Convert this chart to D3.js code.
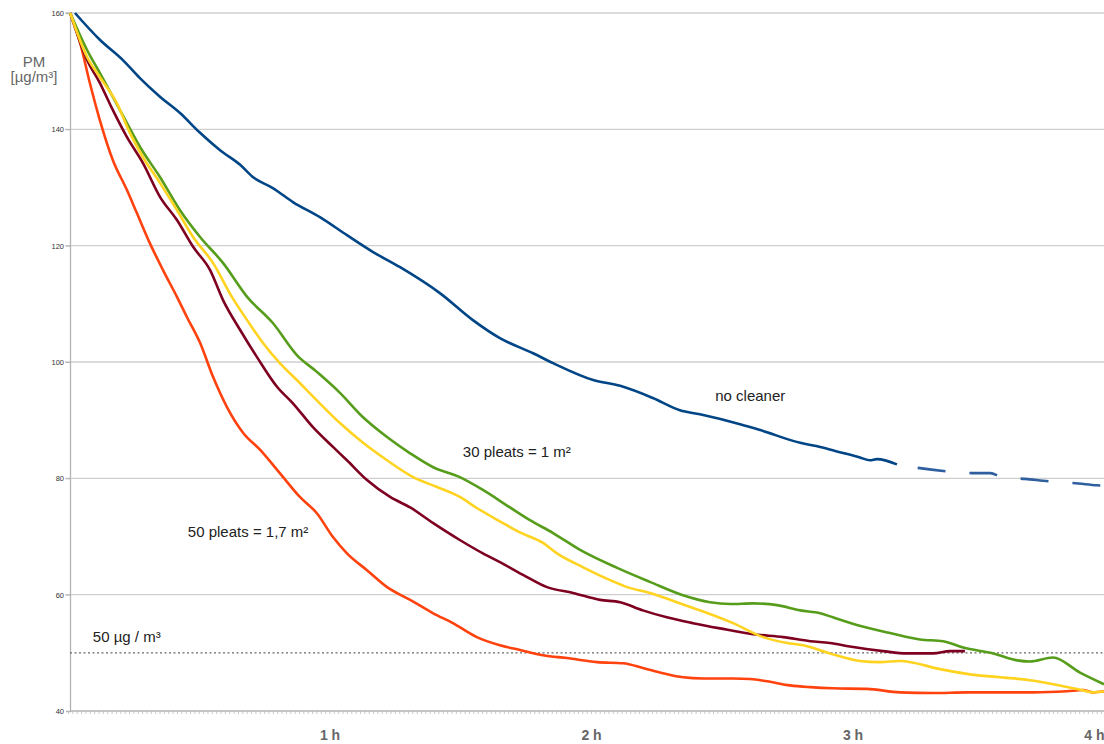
<!DOCTYPE html>
<html>
<head>
<meta charset="utf-8">
<script src="https://cdn.jsdelivr.net/npm/d3@7"></script>
<style>
  html, body { margin: 0; padding: 0; background: #fff; }
  svg { display: block; font-family: "Liberation Sans", Arial, sans-serif; }
</style>
</head>
<body>
<svg id="chart" width="1104" height="744"></svg>
<script>
// ---- data (time in minutes, PM in µg/m³) ----
const yTicks = [40, 60, 80, 100, 120, 140, 160];
const hourTicks = [60, 120, 180, 240];
const hourLabels = ["1 h", "2 h", "3 h", "4 h"];
const threshold = 50;

const blueT = [1.6,7.3,12.6,16.5,21.1,25.7,30.3,34.9,39.5,42.4,47.0,51.6,57.8,64.0,70.0,76.2,85.4,92.9,99.1,106.7,111.3,120.5,126.7,134.2,140.4,145.0,154.2,158.8,168.0,172.6,177.1,181.7,184.0,185.6,190.2];
const blueV = [160,155.4,151.9,148.8,145.6,142.8,139.4,136.4,133.9,131.8,129.9,127.5,124.9,121.8,118.9,116.3,111.8,107.2,104.1,101.5,99.8,96.9,95.9,93.8,91.7,91.0,89.3,88.3,86.1,85.4,84.5,83.6,83.1,83.3,82.4];
const blueDashT = [190.2,195.0,201.7,207.4,211.6,214.3,219.6,224.9,230.6,236.1,237.7];
const blueDashV = [82.4,81.8,81.2,80.9,80.9,80.2,79.9,79.5,79.2,78.8,78.7];

const greenT = [0.5,4.4,7.3,10.3,13.5,16.5,21.1,25.7,30.3,35.6,41.1,47.0,52.5,57.1,62.4,67.7,73.2,78.5,83.8,89.9,95.2,101.4,106.0,111.3,117.5,126.0,133.5,141.1,147.3,151.9,157.2,162.7,168.0,172.6,175.5,181.0,188.6,195.5,200.8,205.4,212.3,217.8,220.7,226.0,232.2,237.7];
const greenV = [160,153.6,149.7,145.6,141.1,137.0,131.8,126.1,121.5,117.0,111.2,106.7,101.2,98.3,94.7,90.5,87.1,84.3,81.9,80.2,78.0,75.0,72.8,70.6,67.7,64.6,62.2,59.9,58.7,58.4,58.5,58.2,57.3,56.8,56.1,54.8,53.4,52.3,52.0,50.9,49.9,48.7,48.5,49.2,46.6,44.6];

const yellowT = [0.5,4.4,7.3,11.2,14.2,17.2,21.1,25.0,28.7,33.3,37.6,41.1,44.7,48.6,52.5,57.1,62.4,67.7,73.2,79.2,84.7,89.9,93.8,99.1,103.7,109.0,112.2,118.2,124.4,128.3,133.5,139.7,145.0,152.6,159.5,165.0,168.7,174.8,181.7,186.3,190.9,200.1,207.0,213.9,220.7,227.6,231.5,235.2,237.7];
const yellowV = [160,152.4,149.0,144.5,139.4,135.2,130.8,126.1,121.5,117.0,111.2,107.2,103.3,99.8,96.9,93.4,89.5,86.1,83.1,80.2,78.5,76.8,74.9,72.6,70.7,68.9,67.1,64.7,62.5,61.3,60.3,58.7,57.3,55.1,52.7,51.7,51.3,49.9,48.6,48.4,48.6,47.2,46.3,45.8,45.3,44.4,43.8,43.2,43.4];

const maroonT = [0.5,4.4,7.3,10.3,13.5,17.2,21.1,25.0,28.7,32.6,35.6,39.5,43.4,48.0,51.6,56.2,60.8,64.0,68.6,73.9,78.5,83.8,89.9,95.2,99.1,104.4,109.9,115.9,122.1,126.7,131.9,137.4,143.4,149.6,157.2,164.1,170.3,174.8,179.4,187.0,192.5,198.5,202.4,205.8];
const maroonV = [160,151.9,148.0,143.3,138.7,134.2,128.4,124.4,119.8,115.8,110.6,105.5,100.8,95.7,92.9,88.8,85.4,83.1,79.7,76.8,75.0,72.3,69.4,67.1,65.6,63.4,61.3,60.3,59.1,58.7,57.3,56.1,55.1,54.2,53.2,52.7,52.0,51.7,51.1,50.3,49.9,49.9,50.3,50.3];

const orangeT = [0.5,2.8,5.0,7.3,10.3,13.5,15.8,18.8,21.8,25.0,27.3,30.3,33.3,36.5,40.2,44.1,48.6,53.2,57.1,60.8,64.0,68.6,73.2,78.5,83.8,88.3,93.8,99.1,103.7,109.0,114.5,121.4,127.4,131.9,136.5,141.1,145.7,152.6,156.5,160.4,165.7,170.3,175.5,183.3,190.9,198.5,206.3,213.9,221.4,229.2,232.9,235.2,237.7];
const orangeV = [160,154.8,148.0,141.6,134.7,129.6,125.6,120.4,115.8,111.2,107.7,103.3,97.4,92.2,87.8,84.9,80.9,76.8,74.0,69.9,67.1,64.2,61.3,59.1,56.8,55.1,52.7,51.3,50.5,49.6,49.1,48.4,48.2,47.4,46.5,45.8,45.6,45.6,45.5,45.1,44.4,44.1,43.9,43.8,43.2,43.1,43.2,43.2,43.2,43.4,43.6,43.2,43.4];

const annotations = [
  {text: "no cleaner", t: 148.5, v: 93.3},
  {text: "30 pleats = 1 m²", t: 90.6, v: 83.6},
  {text: "50 pleats = 1,7 m²", t: 27.5, v: 69.9},
  {text: "50 µg / m³", t: 5.7, v: 51.8}
];

// ---- layout ----
const svg = d3.select("#chart");
const plotLeft = 68, plotTop = 13, plotBottom = 711, plotRight = 1104;
const x = d3.scaleLinear().domain([0, 60]).range([plotLeft, plotLeft + 261.5]);
const y = d3.scaleLinear().domain([40, 160]).range([plotBottom, plotTop]);

// gridlines
svg.append("g").selectAll("line").data(yTicks.filter(d => d > 40)).join("line")
  .attr("x1", 65).attr("x2", plotRight)
  .attr("y1", d => y(d)).attr("y2", d => y(d))
  .attr("stroke", "#cfcfcf").attr("stroke-width", 1.3);

// y axis labels
const yAxis = d3.axisLeft(y).tickValues(yTicks).tickSize(4).tickPadding(2).tickFormat(d3.format("d"));
const gy = svg.append("g").attr("transform", `translate(${x(0.46)},0)`).call(yAxis);
gy.select(".domain").attr("stroke", "#b3b3b3").attr("stroke-width", 1.3);
gy.selectAll(".tick line").attr("stroke", "#b3b3b3");
gy.selectAll("text").attr("font-size", 7.5).attr("fill", "#333")
  .attr("font-family", "Liberation Sans, Arial, sans-serif");

// x axis minor ticks (every minute)
const minutes = d3.range(0, 238, 1);
const xMinor = d3.axisBottom(x).tickValues(minutes).tickSize(3).tickFormat("");
const gx = svg.append("g").attr("transform", `translate(0,${plotBottom})`).call(xMinor);
gx.select(".domain").remove();
gx.selectAll(".tick line").attr("stroke", "#bdbdbd").attr("stroke-width", 0.8);
svg.append("line").attr("x1", x(0.46)).attr("x2", plotRight)
  .attr("y1", plotBottom).attr("y2", plotBottom).attr("stroke", "#b3b3b3").attr("stroke-width", 1.3);

// x axis hour labels
const xLab = d3.axisBottom(x).tickValues(hourTicks).tickSize(0).tickPadding(19)
  .tickFormat((d, i) => hourLabels[i]);
const gxl = svg.append("g").attr("transform", `translate(0,${plotBottom})`).call(xLab);
gxl.select(".domain").remove();
gxl.selectAll("text").attr("font-size", 14).attr("font-weight", "bold").attr("fill", "#666")
  .attr("font-family", "Liberation Sans, Arial, sans-serif");
gxl.selectAll(".tick").filter(d => d === 240).select("text")
  .attr("text-anchor", "end").attr("dx", plotRight - x(240));

// y axis title
const ttl = svg.append("g").attr("fill", "#666").attr("font-size", 15).attr("text-anchor", "middle");
ttl.append("text").attr("x", 34).attr("y", 67).text("PM");
ttl.append("text").attr("x", 34).attr("y", 82).text("[µg/m³]");

// threshold line
svg.append("line").attr("x1", x(0.46)).attr("x2", plotRight)
  .attr("y1", y(threshold)).attr("y2", y(threshold))
  .attr("stroke", "#666").attr("stroke-width", 1.2).attr("stroke-dasharray", "2,2.5");

// series
const line = d3.line().x(d => x(d[0])).y(d => y(d[1])).curve(d3.curveMonotoneX);
const zip = (t, v) => t.map((d, i) => [d, v[i]]);
const series = [
  {t: orangeT, v: orangeV, c: "#ff420e"},
  {t: maroonT, v: maroonV, c: "#7e0021"},
  {t: greenT, v: greenV, c: "#579d1c"},
  {t: yellowT, v: yellowV, c: "#ffd320"},
  {t: blueT, v: blueV, c: "#004586"}
];
svg.append("clipPath").attr("id", "clip").append("rect")
  .attr("x", 0).attr("y", 0).attr("width", plotRight).attr("height", plotBottom);
const gs = svg.append("g").attr("clip-path", "url(#clip)");
series.forEach(s => {
  gs.append("path").attr("d", line(zip(s.t, s.v))).attr("fill", "none")
    .attr("stroke", s.c).attr("stroke-width", 2.6).attr("stroke-linejoin", "round");
});
gs.append("path").attr("d", line(zip(blueDashT, blueDashV))).attr("fill", "none")
  .attr("stroke", "#2f5f9e").attr("stroke-width", 2.6)
  .attr("stroke-dasharray", "28,24").attr("stroke-dashoffset", 31);

// annotations
svg.append("g").selectAll("text").data(annotations).join("text")
  .attr("x", d => x(d.t)).attr("y", d => y(d.v))
  .attr("font-size", 15).attr("fill", "#222").text(d => d.text);
</script>
</body>
</html>
